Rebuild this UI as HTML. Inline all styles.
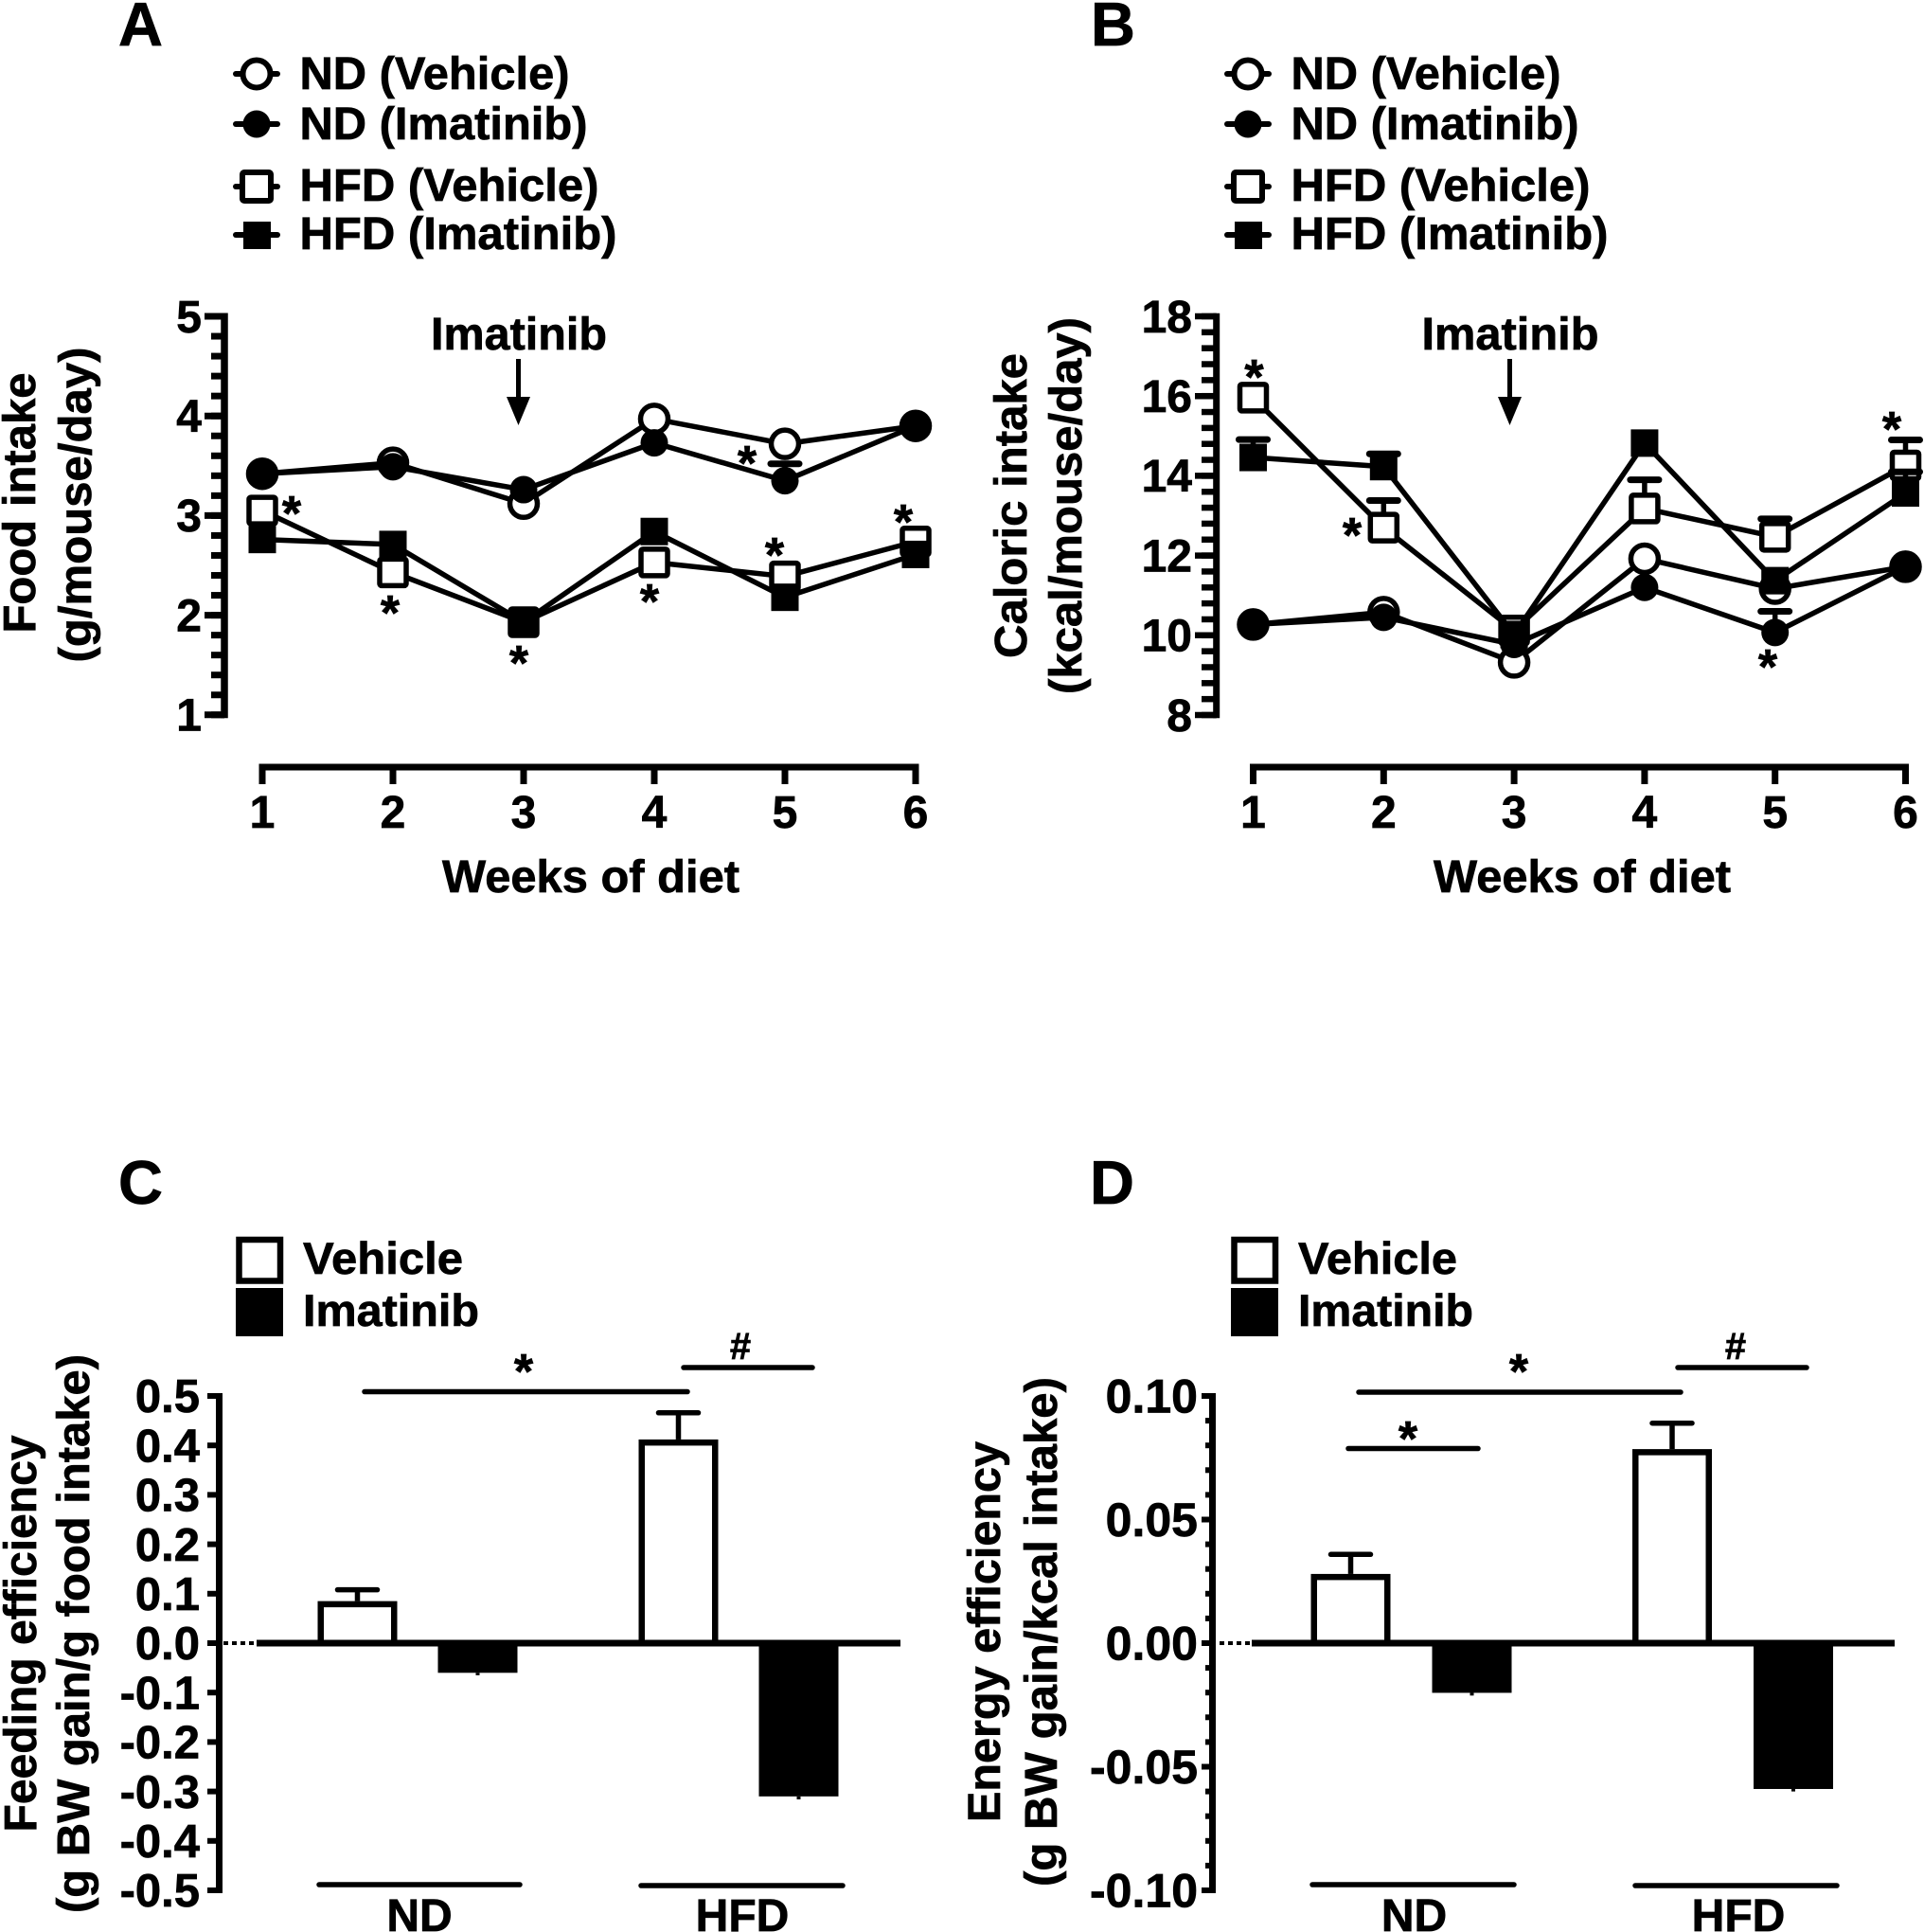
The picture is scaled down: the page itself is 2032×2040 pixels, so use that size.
<!DOCTYPE html>
<html lang="en">
<head>
<meta charset="utf-8">
<title>Food intake and feeding efficiency</title>
<style>
html,body{margin:0;padding:0;background:#fff;}
svg{display:block;}
text{font-family:"Liberation Sans",Arial,sans-serif;font-weight:700;fill:#000;stroke:#000;stroke-width:.7px;}
</style>
</head>
<body>
<svg id="figure" xmlns="http://www.w3.org/2000/svg" width="2032" height="2040" viewBox="0 0 2032 2040">
<rect width="2032" height="2040" fill="#fff"/>

<!-- Panel letters -->
<text x="125" y="48" font-size="65">A</text>
<text x="1152" y="48" font-size="65">B</text>
<text x="125" y="1271" font-size="65">C</text>
<text x="1151" y="1271" font-size="65">D</text>

<!-- Legend A -->
<g fill="none" stroke="#000" stroke-width="6" stroke-linecap="round">
  <g>
    <line x1="249" x2="293" y1="78" y2="78"/><circle cx="271" cy="78" r="14.5" fill="#fff"/>
    <text x="316.5" y="94" font-size="48" textLength="285" lengthAdjust="spacingAndGlyphs">ND (Vehicle)</text>
  </g>
  <g>
    <line x1="249" x2="293" y1="131" y2="131"/><circle cx="271" cy="131" r="14.5" fill="#000" stroke="none"/>
    <text x="316.5" y="147" font-size="48" textLength="304" lengthAdjust="spacingAndGlyphs">ND (Imatinib)</text>
  </g>
  <g>
    <line x1="249" x2="293" y1="197" y2="197"/><rect x="256" y="182" width="30" height="30" rx="2" fill="#fff"/>
    <text x="316.5" y="212" font-size="48" textLength="316" lengthAdjust="spacingAndGlyphs">HFD (Vehicle)</text>
  </g>
  <g>
    <line x1="249" x2="293" y1="248" y2="248"/><rect x="257" y="234" width="29" height="29" fill="#000" stroke="none"/>
    <text x="316.5" y="263" font-size="48" textLength="335" lengthAdjust="spacingAndGlyphs">HFD (Imatinib)</text>
  </g>
</g>

<!-- Legend B -->
<g fill="none" stroke="#000" stroke-width="6" stroke-linecap="round" transform="translate(1047 0)">
  <g>
    <line x1="249" x2="293" y1="78" y2="78"/><circle cx="271" cy="78" r="14.5" fill="#fff"/>
    <text x="316.5" y="94" font-size="48" textLength="285" lengthAdjust="spacingAndGlyphs">ND (Vehicle)</text>
  </g>
  <g>
    <line x1="249" x2="293" y1="131" y2="131"/><circle cx="271" cy="131" r="14.5" fill="#000" stroke="none"/>
    <text x="316.5" y="147" font-size="48" textLength="304" lengthAdjust="spacingAndGlyphs">ND (Imatinib)</text>
  </g>
  <g>
    <line x1="249" x2="293" y1="197" y2="197"/><rect x="256" y="182" width="30" height="30" rx="2" fill="#fff"/>
    <text x="316.5" y="212" font-size="48" textLength="316" lengthAdjust="spacingAndGlyphs">HFD (Vehicle)</text>
  </g>
  <g>
    <line x1="249" x2="293" y1="248" y2="248"/><rect x="257" y="234" width="29" height="29" fill="#000" stroke="none"/>
    <text x="316.5" y="263" font-size="48" textLength="335" lengthAdjust="spacingAndGlyphs">HFD (Imatinib)</text>
  </g>
</g>

<!-- Axis titles -->
<g text-anchor="middle" font-size="48">
  <text transform="translate(37 531) rotate(-90)" textLength="275" lengthAdjust="spacingAndGlyphs">Food intake</text>
  <text transform="translate(96 533) rotate(-90)" textLength="333" lengthAdjust="spacingAndGlyphs">(g/mouse/day)</text>
  <text transform="translate(1084 534) rotate(-90)" textLength="322" lengthAdjust="spacingAndGlyphs">Caloric intake</text>
  <text transform="translate(1142 534) rotate(-90)" textLength="398" lengthAdjust="spacingAndGlyphs">(kcal/mouse/day)</text>
  <text transform="translate(38 1725) rotate(-90)" textLength="419" lengthAdjust="spacingAndGlyphs">Feeding efficiency</text>
  <text transform="translate(94 1725) rotate(-90)" textLength="590" lengthAdjust="spacingAndGlyphs">(g BW gain/g food intake)</text>
  <text transform="translate(1056 1723) rotate(-90)" textLength="402" lengthAdjust="spacingAndGlyphs">Energy efficiency</text>
  <text transform="translate(1116 1723) rotate(-90)" textLength="538" lengthAdjust="spacingAndGlyphs">(g BW gain/kcal intake)</text>
  <text x="624" y="942" textLength="314" lengthAdjust="spacingAndGlyphs">Weeks of diet</text>
  <text x="1671" y="942" textLength="314" lengthAdjust="spacingAndGlyphs">Weeks of diet</text>
  <text x="548" y="369" textLength="186" lengthAdjust="spacingAndGlyphs">Imatinib</text>
  <text x="1595" y="369" textLength="187" lengthAdjust="spacingAndGlyphs">Imatinib</text>
</g>

<!-- Imatinib arrows -->
<g>
  <line x1="547.5" x2="547.5" y1="379" y2="425" stroke="#000" stroke-width="5"/>
  <polygon points="535,419 560,419 547.5,449" fill="#000"/>
</g>
<g>
  <line x1="1594.5" x2="1594.5" y1="379" y2="425" stroke="#000" stroke-width="5"/>
  <polygon points="1582,419 1607,419 1594.5,449" fill="#000"/>
</g>

<g id="plots"></g>

<!-- Significance stars, panel A -->
<g text-anchor="middle" font-size="52">
  <text x="308" y="560">*</text>
  <text x="412" y="665">*</text>
  <text x="548" y="718">*</text>
  <text x="686" y="653">*</text>
  <text x="789" y="507">*</text>
  <text x="818" y="604">*</text>
  <text x="954" y="569">*</text>
  <!-- panel B -->
  <text x="1324.5" y="416">*</text>
  <text x="1428" y="583">*</text>
  <text x="1867" y="722">*</text>
  <text x="1998" y="471">*</text>
  <!-- panel C -->
  <text x="553" y="1466">*</text>
  <text x="782" y="1435" font-size="40">#</text>
  <!-- panel D -->
  <text x="1604" y="1466">*</text>
  <text x="1487" y="1537">*</text>
  <text x="1833" y="1435" font-size="40">#</text>
  <!-- group labels -->
  <text x="443" y="2039" font-size="48">ND</text>
  <text x="784" y="2039" font-size="48">HFD</text>
  <text x="1493.5" y="2039" font-size="48">ND</text>
  <text x="1836" y="2039" font-size="48">HFD</text>
</g>

<!-- Significance and group lines -->
<g stroke="#000" stroke-width="5.5" stroke-linecap="round">
  <line x1="385" x2="726" y1="1469.5" y2="1469.5"/>
  <line x1="722" x2="858" y1="1444" y2="1444"/>
  <line x1="337" x2="549" y1="1990" y2="1990"/>
  <line x1="677" x2="890" y1="1991" y2="1991"/>
  <line x1="1435" x2="1775" y1="1470" y2="1470"/>
  <line x1="1772" x2="1908" y1="1444" y2="1444"/>
  <line x1="1424" x2="1561" y1="1529.5" y2="1529.5"/>
  <line x1="1386" x2="1599" y1="1990" y2="1990"/>
  <line x1="1727" x2="1940" y1="1991" y2="1991"/>
</g>

<!-- Legends C and D -->
<g>
  <rect x="252.5" y="1309" width="43.5" height="43.5" fill="#fff" stroke="#000" stroke-width="6.5"/>
  <rect x="249" y="1360" width="50" height="51" fill="#000"/>
  <text x="320" y="1345" font-size="47" textLength="169" lengthAdjust="spacingAndGlyphs">Vehicle</text>
  <text x="320" y="1400" font-size="47" textLength="186" lengthAdjust="spacingAndGlyphs">Imatinib</text>
</g>
<g>
  <rect x="1303.5" y="1309" width="43.5" height="43.5" fill="#fff" stroke="#000" stroke-width="6.5"/>
  <rect x="1300" y="1360" width="50" height="51" fill="#000"/>
  <text x="1371" y="1345" font-size="47" textLength="168" lengthAdjust="spacingAndGlyphs">Vehicle</text>
  <text x="1371" y="1400" font-size="47" textLength="185" lengthAdjust="spacingAndGlyphs">Imatinib</text>
</g>
</svg>

<script>
// ---------- Chart data ----------
const weeks = [1, 2, 3, 4, 5, 6];

const foodTickLabels = ['1', '2', '3', '4', '5'];
const foodTickValues = [1, 2, 3, 4, 5];
const foodNdVehicle = [3.42, 3.53, 3.12, 3.97, 3.72, 3.90];
const foodNdImatinib = [3.42, 3.49, 3.26, 3.73, 3.35, 3.90];
const foodHfdVehicle = [3.05, 2.43, 1.93, 2.53, 2.39, 2.74];
const foodHfdImatinib = [2.76, 2.71, 1.93, 2.84, 2.18, 2.61];
const foodNdVehicleErrTop = [null, null, null, null, null, null];
const foodNdImatinibErrTop = [null, null, null, null, 3.52, null];
const foodHfdVehicleErrTop = [null, null, null, null, null, null];
const foodHfdImatinibErrTop = [null, null, null, null, null, null];

const calorieTickLabels = ['8', '10', '12', '14', '16', '18'];
const calorieTickValues = [8, 10, 12, 14, 16, 18];
const calorieNdVehicle = [10.27, 10.58, 9.32, 11.92, 11.17, 11.72];
const calorieNdImatinib = [10.27, 10.45, 9.77, 11.20, 10.07, 11.72];
const calorieHfdVehicle = [15.96, 12.70, 10.12, 13.18, 12.47, 14.26];
const calorieHfdImatinib = [14.46, 14.23, 10.02, 14.82, 11.37, 13.57];
const calorieNdVehicleErrTop = [null, null, null, null, null, null];
const calorieNdImatinibErrTop = [null, null, null, null, 10.60, null];
const calorieHfdVehicleErrTop = [null, 13.38, null, 13.90, 12.92, 14.90];
const calorieHfdImatinibErrTop = [14.91, 14.55, null, null, null, 14.10];

const groups = ['ND', 'HFD'];
const feedingTickLabels = ['0.5', '0.4', '0.3', '0.2', '0.1', '0.0', '-0.1', '-0.2', '-0.3', '-0.4', '-0.5'];
const feedingTickValues = [0.5, 0.4, 0.3, 0.2, 0.1, 0, -0.1, -0.2, -0.3, -0.4, -0.5];
const feedingVehicle = [0.085, 0.412];
const feedingImatinib = [-0.06, -0.31];
const feedingVehicleErr = [0.108, 0.466];
const feedingImatinibErr = [-0.065, -0.316];

const energyTickLabels = ['0.10', '0.05', '0.00', '-0.05', '-0.10'];
const energyTickValues = [0.10, 0.05, 0, -0.05, -0.10];
const energyVehicle = [0.028, 0.0785];
const energyImatinib = [-0.0201, -0.059];
const energyVehicleErr = [0.0359, 0.089];
const energyImatinibErr = [-0.0212, -0.06];

// ---------- Drawing helpers ----------
const NS = 'http://www.w3.org/2000/svg';
const root = document.getElementById('plots');

function make(tag, parent, props) {
  const el = document.createElementNS(NS, tag);
  for (const k in props) el.setAttribute(k, props[k]);
  parent.appendChild(el);
  return el;
}

function drawYAxis(parent, name, axisX, axisW, tickW, yOf, lo, hi, tickValues, tickLabels, minorStep, majorX, minorX, labelX, fontSize) {
  const g = make('g', parent, {});
  
  
  const spine = make('line', g, {x1: axisX, x2: axisX, y1: yOf(hi) - tickW / 2, y2: yOf(lo) + tickW / 2, stroke: '#000', 'stroke-width': axisW});
  
  
  if (minorStep) {
    const count = Math.round((hi - lo) / minorStep);
    for (let i = 0; i <= count; i++) {
      const v = lo + i * minorStep;
      const minor = make('line', g, {x1: minorX, x2: axisX, y1: yOf(v), y2: yOf(v), stroke: '#000', 'stroke-width': tickW});
      
      
    }
  }
  tickValues.forEach((v, i) => {
    const tick = make('line', g, {x1: majorX, x2: axisX, y1: yOf(v), y2: yOf(v), stroke: '#000', 'stroke-width': tickW});
    
    
    const label = make('text', g, {x: labelX, y: yOf(v) + fontSize * 0.35, 'text-anchor': 'end', 'font-size': fontSize});
    
    
    label.textContent = tickLabels[i];
  });
}

function drawXAxis(parent, name, xOf, axisY, tickEnd) {
  const g = make('g', parent, {});
  
  
  const spine = make('line', g, {x1: xOf(weeks[0]) - 3.5, x2: xOf(weeks[5]) + 3.5, y1: axisY, y2: axisY, stroke: '#000', 'stroke-width': 7});
  
  
  weeks.forEach(w => {
    const tick = make('line', g, {x1: xOf(w), x2: xOf(w), y1: axisY, y2: tickEnd, stroke: '#000', 'stroke-width': 7});
    
    
    const label = make('text', g, {x: xOf(w), y: 874, 'text-anchor': 'middle', 'font-size': 48});
    
    
    label.textContent = String(w);
  });
}

function drawSeries(parent, name, values, errTop, shape, filled, xOf, yOf) {
  const g = make('g', parent, {});
  
  
  const pts = values.map((v, i) => xOf(weeks[i]) + ',' + yOf(v)).join(' ');
  const line = make('polyline', g, {points: pts, fill: 'none', stroke: '#000', 'stroke-width': 5.5, 'stroke-linejoin': 'miter'});
  
  
  values.forEach((v, i) => {
    const x = xOf(weeks[i]), y = yOf(v);
    if (errTop[i] !== null) {
      const stem = make('line', g, {x1: x, x2: x, y1: y, y2: yOf(errTop[i]), stroke: '#000', 'stroke-width': 5.5});
      
      
      const cap = make('line', g, {x1: x - 15, x2: x + 15, y1: yOf(errTop[i]), y2: yOf(errTop[i]), stroke: '#000', 'stroke-width': 7, 'stroke-linecap': 'round'});
      
      
    }
  });
  values.forEach((v, i) => {
    const x = xOf(weeks[i]), y = yOf(v);
    let m;
    if (shape === 'circle') {
      m = filled
        ? make('circle', g, {cx: x, cy: y, r: 14.5, fill: '#000'})
        : make('circle', g, {cx: x, cy: y, r: 14.5, fill: '#fff', stroke: '#000', 'stroke-width': 5.5});
    } else {
      m = filled
        ? make('rect', g, {x: x - 14.5, y: y - 14.5, width: 29, height: 29, fill: '#000'})
        : make('rect', g, {x: x - 14, y: y - 14, width: 28, height: 28, rx: 2, fill: '#fff', stroke: '#000', 'stroke-width': 5.5});
    }
    
    
  });
}

function drawBars(parent, name, vehicle, imatinib, vehErr, imaErr, xOf, yOf, zeroY, x0, x1) {
  const g = make('g', parent, {});
  
  
  const barW = 84, sw = 6.5;
  groups.forEach((grp, i) => {
    const cx = xOf(i, 0), top = yOf(vehicle[i]);
    const stem = make('line', g, {x1: cx, x2: cx, y1: top, y2: yOf(vehErr[i]), stroke: '#000', 'stroke-width': 5.5});
    
    
    const cap = make('line', g, {x1: cx - 21, x2: cx + 21, y1: yOf(vehErr[i]), y2: yOf(vehErr[i]), stroke: '#000', 'stroke-width': 5.5, 'stroke-linecap': 'round'});
    
    
    const vb = make('rect', g, {x: cx - barW / 2 + sw / 2, y: top + sw / 2, width: barW - sw, height: zeroY - top - sw / 2, fill: '#fff', stroke: '#000', 'stroke-width': sw});
    
    
    const cx2 = xOf(i, 1), bottom = yOf(imatinib[i]);
    const ib = make('rect', g, {x: cx2 - barW / 2, y: zeroY, width: barW, height: bottom - zeroY, fill: '#000'});
    
    
    const ie = make('line', g, {x1: cx2, x2: cx2, y1: bottom, y2: yOf(imaErr[i]), stroke: '#000', 'stroke-width': 4});
    
    
  });
  const base = make('line', g, {x1: x0, x2: x1, y1: zeroY, y2: zeroY, stroke: '#000', 'stroke-width': 7});
  
  
}

// ---------- Panel A ----------
const yA = v => 334 + (5 - v) * 105.2;
const xA = w => 277 + (w - 1) * 138;
const panelA = make('g', root, {});


drawYAxis(panelA, 'y-axis-a', 237, 7.5, 7, yA, 1, 5, foodTickValues, foodTickLabels, 0.2, 216, 223, 213, 48);
drawXAxis(panelA, 'x-axis-a', xA, 810, 828);
drawSeries(panelA, 'series-nd-vehicle', foodNdVehicle, foodNdVehicleErrTop, 'circle', false, xA, yA);
drawSeries(panelA, 'series-hfd-vehicle', foodHfdVehicle, foodHfdVehicleErrTop, 'square', false, xA, yA);
drawSeries(panelA, 'series-nd-imatinib', foodNdImatinib, foodNdImatinibErrTop, 'circle', true, xA, yA);
drawSeries(panelA, 'series-hfd-imatinib', foodHfdImatinib, foodHfdImatinibErrTop, 'square', true, xA, yA);

// ---------- Panel B ----------
const yB = v => 334 + (18 - v) * 42.1;
const xB = w => 1323.5 + (w - 1) * 137.8;
const panelB = make('g', root, {});


drawYAxis(panelB, 'y-axis-b', 1284.7, 7, 6.5, yB, 8, 18, calorieTickValues, calorieTickLabels, 0.4, 1262, 1269, 1259, 48);
drawXAxis(panelB, 'x-axis-b', xB, 810, 828);
drawSeries(panelB, 'series-nd-vehicle', calorieNdVehicle, calorieNdVehicleErrTop, 'circle', false, xB, yB);
drawSeries(panelB, 'series-hfd-vehicle', calorieHfdVehicle, calorieHfdVehicleErrTop, 'square', false, xB, yB);
drawSeries(panelB, 'series-nd-imatinib', calorieNdImatinib, calorieNdImatinibErrTop, 'circle', true, xB, yB);
drawSeries(panelB, 'series-hfd-imatinib', calorieHfdImatinib, calorieHfdImatinibErrTop, 'square', true, xB, yB);

// ---------- Panel C ----------
const yC = v => 1735 - v * 522;
const xC = (g, s) => 377.5 + g * 339 + s * 127;
const panelC = make('g', root, {});


drawYAxis(panelC, 'y-axis-c', 231.5, 7, 6, yC, -0.5, 0.5, feedingTickValues, feedingTickLabels, 0, 219, 219, 211, 49);
const dotsC = make('line', panelC, {x1: 236, x2: 271, y1: 1735, y2: 1735, stroke: '#000', 'stroke-width': 4, 'stroke-dasharray': '5 4'});


drawBars(panelC, 'bars-c', feedingVehicle, feedingImatinib, feedingVehicleErr, feedingImatinibErr, xC, yC, 1735, 271, 951);

// ---------- Panel D ----------
const yD = v => 1735 - v * 2610;
const xD = (g, s) => 1426.5 + g * 339.5 + s * 128;
const panelD = make('g', root, {});


drawYAxis(panelD, 'y-axis-d', 1280.5, 7, 6, yD, -0.1, 0.1, energyTickValues, energyTickLabels, 0.01, 1269, 1273, 1265, 50);
const dotsD = make('line', panelD, {x1: 1288, x2: 1322, y1: 1735, y2: 1735, stroke: '#000', 'stroke-width': 4, 'stroke-dasharray': '5 4'});


drawBars(panelD, 'bars-d', energyVehicle, energyImatinib, energyVehicleErr, energyImatinibErr, xD, yD, 1735, 1322, 2001);
</script>
</body>
</html>
